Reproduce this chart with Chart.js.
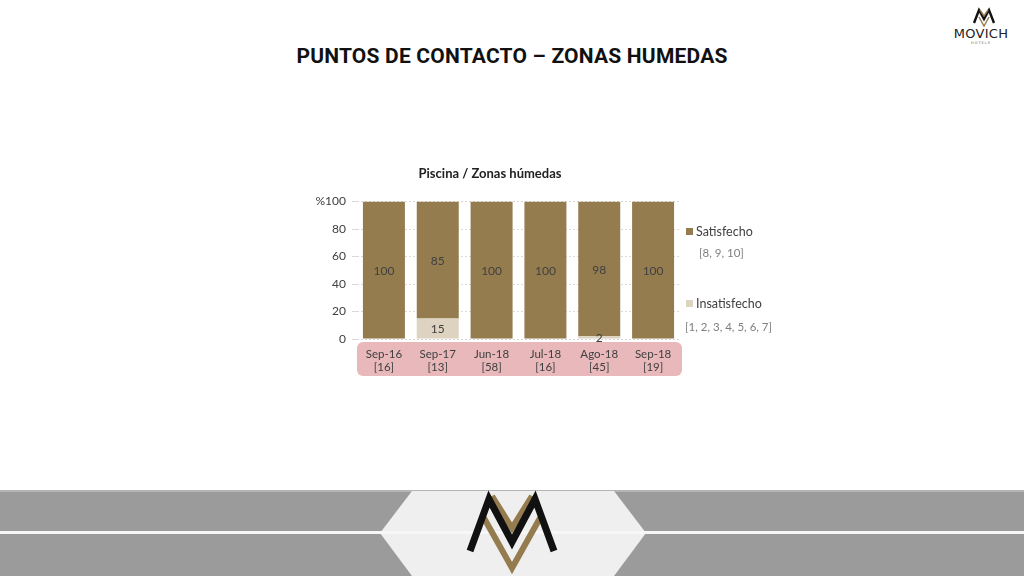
<!DOCTYPE html>
<html>
<head>
<meta charset="utf-8">
<script src="https://cdn.jsdelivr.net/npm/chart.js@4/dist/chart.umd.min.js"></script>
<style>
  body { margin: 0; width: 1024px; height: 576px; overflow: hidden; background: #fff; font-family: "Lato", "Noto Sans", sans-serif; position: relative; }
  #pageTitle { position: absolute; top: 44px; left: 0; width: 1024px; text-align: center; font: bold 21px "Roboto", "Noto Sans", sans-serif; color: #111; letter-spacing: 0.2px; }
  #chartBox { position: absolute; left: 300px; top: 155px; width: 390px; height: 224px; }
  .leg { position: absolute; font-size: 12.5px; color: #404040; white-space: nowrap; }
  .leg i { display: inline-block; width: 7px; height: 7px; margin-right: 3px; vertical-align: 1px; }
  .sub { position: absolute; font-size: 11.5px; color: #7f7f7f; white-space: nowrap; }
  #footer { position: absolute; left: 0; top: 490px; width: 1024px; height: 86px; }
  #brand { position: absolute; left: 935px; top: 4px; width: 85px; height: 42px; }
</style>
</head>
<body>
<div id="pageTitle">PUNTOS DE CONTACTO – ZONAS HUMEDAS</div>

<svg id="brand" viewBox="0 0 85 42">
  <polyline points="39,19 44,6 49,15 54,6 59,19" fill="none" stroke="#111" stroke-width="2.4"/>
  <polyline points="45,6 49,12 53,6" fill="none" stroke="#947c4f" stroke-width="1.4"/>
  <polyline points="44,13 49,22 54,13" fill="none" stroke="#947c4f" stroke-width="1.4"/>
  <text x="46" y="34" text-anchor="middle" font-family="DejaVu Sans" font-size="13" fill="#222" letter-spacing="0.3">MOVICH</text>
  <text x="46" y="40" text-anchor="middle" font-family="DejaVu Sans" font-size="3.5" fill="#666" letter-spacing="1">HOTELS</text>
</svg>

<div id="chartBox"><canvas id="contactChart"></canvas></div>

<div class="leg" style="left:686px; top:224px;"><i style="background:#947c4f"></i>Satisfecho</div>
<div class="sub" style="left:699px; top:246px;">[8, 9, 10]</div>
<div class="leg" style="left:686px; top:296px;"><i style="background:#ddd3c0"></i>Insatisfecho</div>
<div class="sub" style="left:685px; top:320px;">[1, 2, 3, 4, 5, 6, 7]</div>

<svg id="footer" viewBox="0 0 1024 86">
  <rect x="0" y="0" width="1024" height="86" fill="#9b9b9b"/>
  <rect x="0" y="0" width="1024" height="2" fill="#b5b5b5"/>
  <polygon points="412,1 614,1 646,43 614,86 412,86 380,43" fill="#efefef"/>
  <rect x="0" y="41" width="1024" height="3" fill="#f7f7f7"/>
  <polyline points="492,6 512,38 532,6" fill="none" stroke="#947c4f" stroke-width="6"/>
  <polyline points="484,28 512,78 540,28" fill="none" stroke="#947c4f" stroke-width="6"/>
  <polyline points="470,61 489,9 512,52 535,9 554,61" fill="none" stroke="#111" stroke-width="7" stroke-linejoin="miter"/>
</svg>

<script>
// Datos del gráfico
const categories = [['Sep-16', '[16]'], ['Sep-17', '[13]'], ['Jun-18', '[58]'], ['Jul-18', '[16]'], ['Ago-18', '[45]'], ['Sep-18', '[19]']];
const insatisfecho = [0, 15, 0, 0, 2, 0];
const satisfecho = [100, 85, 100, 100, 98, 100];
const yTicks = [0, 20, 40, 60, 80, 100];

// Fondo rosado detrás de las etiquetas del eje X
const labelBand = {
    id: 'labelBand',
    beforeDraw(chart) {
        const { ctx, chartArea } = chart;
        const x = chartArea.left, y = chartArea.bottom + 3, w = chartArea.right - chartArea.left + 2, h = 34;
        ctx.save();
        ctx.fillStyle = '#e8b8bb';
        ctx.beginPath();
        ctx.roundRect(x, y, w, h, 6);
        ctx.fill();
        ctx.restore();
    }
};

// Etiquetas de valores en el centro de cada segmento
const valueLabels = {
    id: 'valueLabels',
    afterDatasetsDraw(chart) {
        const { ctx } = chart;
        ctx.save();
        ctx.font = '12px Lato, "Noto Sans", sans-serif';
        ctx.fillStyle = '#404040';
        ctx.textAlign = 'center';
        ctx.textBaseline = 'middle';
        chart.data.datasets.forEach((ds, i) => {
            chart.getDatasetMeta(i).data.forEach((bar, j) => {
                const v = ds.data[j];
                if (!v) return;
                const p = bar.getProps(['x', 'y', 'base'], true);
                ctx.fillText(v, p.x, (p.y + p.base) / 2 + 1);
            });
        });
        ctx.restore();
    }
};

const ctx = document.getElementById('contactChart').getContext('2d');
new Chart(ctx, {
    type: 'bar',
    data: {
        labels: categories,
        datasets: [
            { label: 'Insatisfecho', data: insatisfecho, backgroundColor: '#ddd3c0' },
            { label: 'Satisfecho', data: satisfecho, backgroundColor: '#947c4f' }
        ]
    },
    options: {
        responsive: true,
        maintainAspectRatio: false,
        animation: false,
        layout: { padding: { left: 0, right: 10, top: 0, bottom: 0 } },
        datasets: { bar: { barPercentage: 0.78, categoryPercentage: 1 } },
        plugins: {
            legend: { display: false },
            tooltip: { enabled: false },
            title: {
                display: true,
                text: 'Piscina / Zonas húmedas',
                color: '#222',
                font: { family: 'Lato, "Noto Sans", sans-serif', size: 13, weight: 'bold' },
                padding: { top: 11, bottom: 20 }
            }
        },
        scales: {
            x: {
                stacked: true,
                grid: { display: false },
                border: { display: false },
                ticks: {
                    color: '#404040',
                    font: { family: 'Lato, "Noto Sans", sans-serif', size: 11.5 },
                    padding: 0,
                    maxRotation: 0
                },
                afterFit(scale) { scale.height = 40; }
            },
            y: {
                stacked: true,
                min: 0,
                max: 100,
                afterBuildTicks(scale) { scale.ticks = yTicks.map(v => ({ value: v })); },
                grid: { color: '#d9d9d9', tickLength: 5, lineWidth: 1 },
                border: { display: false, dash: [2, 2] },
                ticks: {
                    color: '#404040',
                    font: { family: 'Lato, "Noto Sans", sans-serif', size: 12 },
                    padding: 6,
                    callback: v => v === 100 ? '%100' : v
                },
                afterFit(scale) { scale.width = 57; }
            }
        }
    },
    plugins: [labelBand, valueLabels]
});
</script>
</body>
</html>
